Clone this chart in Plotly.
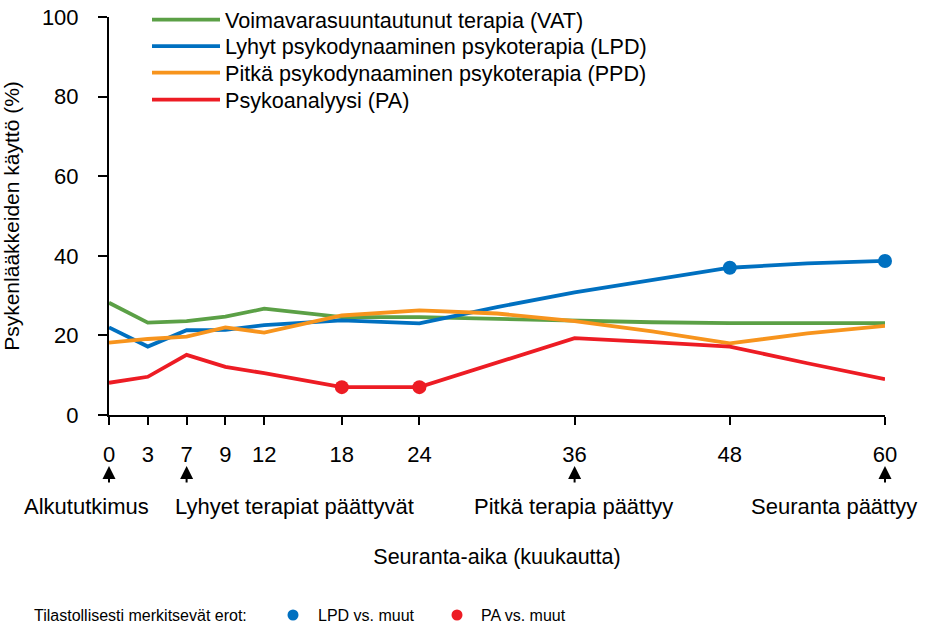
import numpy as np
import plotly.graph_objects as go

# ---- data ----
months = [0, 3, 7, 9, 12, 18, 24, 30, 36, 42, 48, 54, 60]
vat = [28.2, 23.2, 23.6, 24.7, 26.7, 24.6, 24.6, 24.1, 23.6, 23.3, 23.1, 23.1, 23.1]
lpd = [22.0, 17.2, 21.3, 21.4, 22.6, 23.8, 23.0, 27.1, 30.8, 33.8, 37.0, 38.1, 38.7]
ppd = [18.2, 19.1, 19.7, 22.0, 20.7, 25.0, 26.3, 25.5, 23.6, 21.0, 18.0, 20.5, 22.4]
pa = [8.1, 9.6, 15.1, 12.1, 10.5, 7.0, 7.0, 13.2, 19.3, 18.3, 17.2, 13.0, 9.0]

lpd_sig_months = [48, 60]
pa_sig_months = [18, 24]

tick_months = [0, 3, 7, 9, 12, 18, 24, 36, 48, 60]
tick_pos = [0, 3, 6, 9, 12, 18, 24, 36, 48, 60]   # axis spacing used in the figure
tick_labels = [str(m) for m in tick_months]

series_names = [
    "Voimavarasuuntautunut terapia (VAT)",
    "Lyhyt psykodynaaminen psykoterapia (LPD)",
    "Pitkä psykodynaaminen psykoterapia (PPD)",
    "Psykoanalyysi (PA)",
]
colors = ["#5BA046", "#0070C0", "#F7941D", "#ED1C24"]

events = [(0, "Alkututkimus"), (7, "Lyhyet terapiat päättyvät"),
          (36, "Pitkä terapia päättyy"), (60, "Seuranta päättyy")]

key_labels = ["Tilastollisesti merkitsevät erot:", "LPD vs. muut", "PA vs. muut"]


def pos(m):
    return np.interp(m, tick_months, tick_pos)


FONT = "Liberation Sans, Arial, sans-serif"

W, H = 926, 627
ML, MR, MT, MB = 109, 41, 17, 212
PW = W - ML - MR   # 776
PH = H - MT - MB   # 398


def px_x(xpix):  # window pixel -> paper x
    return (xpix - ML) / PW


def px_y(ypix):  # window pixel -> paper y
    return (MT + PH - ypix) / PH


legend_ids = ["legend", "legend2", "legend3", "legend4"]
legend_rows = [20, 46.5, 73, 100]

fig = go.Figure()
for name, vals, col, lid in zip(series_names, [vat, lpd, ppd, pa], colors, legend_ids):
    fig.add_trace(go.Scatter(x=pos(months), y=vals, mode="lines", name=name,
                             line=dict(color=col, width=3.8), cliponaxis=False,
                             legend=lid))


def val_at(series, m):
    return series[months.index(m)]


fig.add_trace(go.Scatter(x=pos(lpd_sig_months), y=[val_at(lpd, m) for m in lpd_sig_months],
                         mode="markers", marker=dict(color=colors[1], size=14),
                         showlegend=False, cliponaxis=False))
fig.add_trace(go.Scatter(x=pos(pa_sig_months), y=[val_at(pa, m) for m in pa_sig_months],
                         mode="markers", marker=dict(color=colors[3], size=14),
                         showlegend=False, cliponaxis=False))

annotations = []
# arrows
for m, label in events:
    annotations.append(dict(x=float(pos(m)), y=px_y(466), xref="x", yref="paper",
                            text="", showarrow=True, ax=0, ay=18,
                            arrowhead=2, arrowsize=1.3, arrowwidth=2, arrowcolor="black"))
# event labels
label_cfg = {0: ("center", -23), 7: ("left", -14), 36: ("center", -1), 60: ("right", 34)}
for m, label in events:
    xa, xs = label_cfg[m]
    annotations.append(dict(x=float(pos(m)), y=px_y(507), xref="x", yref="paper",
                            text=label, showarrow=False, xanchor=xa, yanchor="middle",
                            xshift=xs, font=dict(size=22, family=FONT, color="black")))

# bottom significance key
key_y = px_y(615)
annotations += [
    dict(x=px_x(32), y=key_y, xref="paper", yref="paper", text=key_labels[0],
         showarrow=False, xanchor="left", yanchor="middle",
         font=dict(size=16, family=FONT, color="black")),
    dict(x=px_x(316), y=key_y, xref="paper", yref="paper", text=key_labels[1],
         showarrow=False, xanchor="left", yanchor="middle",
         font=dict(size=16, family=FONT, color="black")),
    dict(x=px_x(479), y=key_y, xref="paper", yref="paper", text=key_labels[2],
         showarrow=False, xanchor="left", yanchor="middle",
         font=dict(size=16, family=FONT, color="black")),
]
shapes = []
for cx, col in [(293, colors[1]), (457, colors[3])]:
    r = 5.5
    shapes.append(dict(type="circle", xref="paper", yref="paper",
                       x0=px_x(cx - r), x1=px_x(cx + r), y0=px_y(615 + r), y1=px_y(615 - r),
                       fillcolor=col, line=dict(width=0)))

layout_legends = {}
for lid, row in zip(legend_ids, legend_rows):
    layout_legends[lid] = dict(x=px_x(147), y=px_y(row), xanchor="left", yanchor="middle",
                               bgcolor="rgba(0,0,0,0)", itemwidth=68, borderwidth=0,
                               font=dict(size=21.6, family=FONT, color="black"))

fig.update_layout(
    width=W, height=H,
    margin=dict(l=ML, r=MR, t=MT, b=MB, pad=0, autoexpand=False),
    paper_bgcolor="white", plot_bgcolor="white",
    font=dict(family=FONT, size=21, color="black"),
    showlegend=True,
    xaxis=dict(range=[0, 60], showline=True, linecolor="black", linewidth=2,
               ticks="outside", ticklen=8, tickwidth=1.5, tickcolor="black",
               tickvals=tick_pos, ticktext=tick_labels, ticklabelstandoff=11,
               ticklabeloverflow="allow",
               showgrid=False, zeroline=False, automargin=False,
               tickfont=dict(size=22, family=FONT, color="black"),
               title=dict(text="Seuranta-aika (kuukautta)", standoff=83,
                          font=dict(size=21.5, family=FONT, color="black"))),
    yaxis=dict(range=[0, 100], showline=True, linecolor="black", linewidth=2,
               ticks="outside", ticklen=9, tickwidth=1.5, tickcolor="black",
               tickvals=[0, 20, 40, 60, 80, 100], ticklabelstandoff=15,
               ticklabeloverflow="allow",
               showgrid=False, zeroline=False, automargin=False,
               tickfont=dict(size=22, family=FONT, color="black"),
               title=dict(text="Psykenlääkkeiden käyttö (%)", standoff=37,
                          font=dict(size=21, family=FONT, color="black"))),
    annotations=annotations,
    shapes=shapes,
    **layout_legends,
)

fig.write_html("out.html", config={"displayModeBar": False},
               post_script="document.body.style.margin='0';document.body.style.padding='0';")
